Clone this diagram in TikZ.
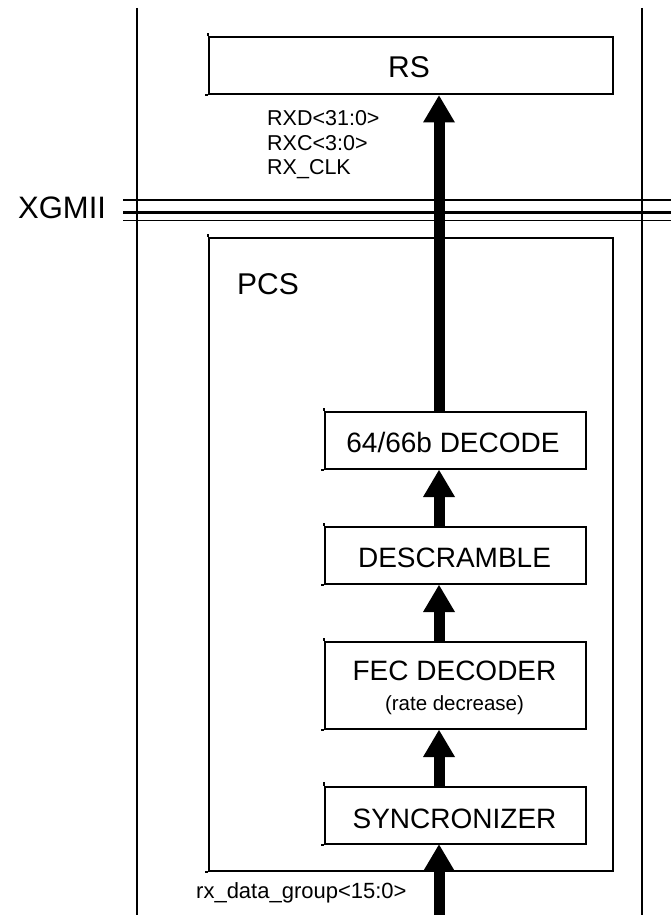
\documentclass[tikz,border=0pt]{standalone}
\usepackage{fontspec}
\setmainfont{Liberation Sans}
\usetikzlibrary{arrows.meta}
\newcommand\fsz[1]{\fontsize{#1}{#1}\selectfont}
\begin{document}
\begin{tikzpicture}[x=1pt,y=-1pt,
  box/.style={draw, line width=2pt, minimum width=261pt, minimum height=57pt, inner sep=0pt, anchor=north west},
  lbl/.style={anchor=base, inner sep=0pt},
  lblw/.style={anchor=base west, inner sep=0pt},
  rail/.style={line width=2pt},
  tick/.style={line width=2pt},
  bus/.style={line width=1.6pt},
  busthick/.style={line width=3.6pt},
  bigarrow/.style={line width=11pt, -{Triangle[width=32pt,length=27pt,line width=0pt]}}
]
\useasboundingbox (0,0) rectangle (671,915);
\fill[white] (0,0) rectangle (671,915);

% layer boundaries
\draw[rail] (136.5,8) -- (136.5,915);
\draw[rail] (642,8) -- (642,915);

% XGMII interface lines
\draw[bus] (123,200) -- (671,200);
\draw[busthick] (123,212.5) -- (671,212.5);
\draw[bus] (123,220.5) -- (671,220.5);
\node[lblw, font=\fsz{31}] (xgmii) at (18,218) {XGMII};

% boxes
\node[box, minimum width=404pt] (rs) at (208,36.5) {};
\node[box, minimum width=404pt, minimum height=633pt] (pcs) at (208,237) {};
\node[box] (dec) at (324,411) {};
\node[box] (desc) at (324,526) {};
\node[box, minimum height=87pt] (fec) at (324,641) {};
\node[box] (sync) at (324,785.5) {};

% small corner overshoots of the box outlines
\foreach \b in {rs,pcs,dec,desc,fec,sync}{
  \draw[tick] (\b.north west) -- ++(0,-3.5);
  \draw[tick] (\b.south west) -- ++(-3.5,0);
}

% texts
\node[lbl, font=\fsz{30}] (rst) at (409,77.5) {RS};
\node[lblw, font=\fsz{30}] (pcst) at (237,294) {PCS};
\node[lbl, font=\fsz{28}] (dect) at (453,452.5) {64/66b DECODE};
\node[lbl, font=\fsz{28}] (desct) at (454.5,567) {DESCRAMBLE};
\node[lbl, font=\fsz{28}] (fect) at (454.5,680) {FEC DECODER};
\node[lbl, font=\fsz{20.5}] (fecsub) at (454.5,710) {(rate decrease)};
\node[lbl, font=\fsz{28}] (synct) at (454.5,828) {SYNCRONIZER};

\node[lblw, font=\fsz{21.5}] (rxd) at (267,126) {RXD<31:0>};
\node[lblw, font=\fsz{21.5}] (rxc) at (267,150) {RXC<3:0>};
\node[lblw, font=\fsz{21.5}] (rxclk) at (267,174) {RX\_CLK};
\node[lblw, font=\fsz{22}] (rxdg) at (196,898) {rx\_data\_group<15:0>};

% arrows
\coordinate (ax) at (439,0);
\coordinate (inbot) at (439,915);
\draw[bigarrow] (dec.north -| ax) -- (rs.south -| ax);
\draw[bigarrow] (desc.north -| ax) -- (dec.south -| ax);
\draw[bigarrow] (fec.north -| ax) -- (desc.south -| ax);
\draw[bigarrow] (sync.north -| ax) -- (fec.south -| ax);
\draw[bigarrow] (inbot) -- (sync.south -| ax);
\end{tikzpicture}
\end{document}
